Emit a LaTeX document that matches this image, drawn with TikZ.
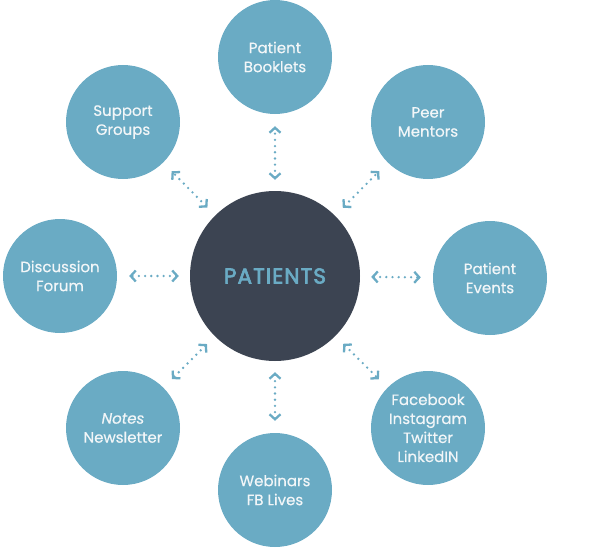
\documentclass[tikz,border=0pt]{standalone}
\usepackage{fontspec}
\setmainfont{Poppins}
\newfontfamily\hubfont{Poppins}[FakeBold=3]
\newfontfamily\outfont{Poppins}[FakeBold=0.4]
\usetikzlibrary{arrows.meta}
\definecolor{blu}{HTML}{6AABC4}
\definecolor{dark}{HTML}{3C4452}
\definecolor{txt}{HTML}{F2F6F8}
\tikzset{
  outer/.style={circle, fill=blu, minimum size=114pt, inner sep=0pt, align=center,
    text=txt, font=\outfont\fontsize{15}{19}\selectfont},
  hub/.style={circle, fill=dark, minimum size=170pt, inner sep=0pt, text=blu,
    font=\hubfont\fontsize{21.5}{22}\selectfont},
  link/.style={draw=blu, line width=2.6pt, line cap=round,
    dash pattern=on 0pt off 6.2pt,
    {Straight Barb[length=5pt,width=11pt,line width=2.3pt]}-{Straight Barb[length=5pt,width=11pt,line width=2.3pt]},
    shorten <=11pt, shorten >=12pt}
}
\begin{document}
\begin{tikzpicture}[x=1pt,y=-1pt]
\useasboundingbox (0,0) rectangle (600,551);
\node[hub] (c) at (275,276) {\raisebox{-1pt}{P\kern1.1ptA\kern1.1ptT\kern1.1ptI\kern1.1ptE\kern1.1ptN\kern1.1ptT\kern1.1ptS}};
\node[outer] (n1) at (275,57) {Patient\\Booklets};
\node[outer] (n2) at (428,122) {Peer\\Mentors};
\node[outer] (n3) at (490,278) {Patient\\Events};
\node[outer] (n4) at (428,428) {Facebook\\Instagram\\Twitter\\LinkedIN};
\node[outer] (n5) at (275,490) {Webinars\\FB Lives};
\node[outer] (n6) at (123,428) {\textit{Notes}\\Newsletter};
\node[outer] (n7) at (60,276) {Discussion\\Forum};
\node[outer] (n8) at (123,122) {Support\\Groups};
\foreach \n in {n1,n2,n3,n4,n5,n6,n7,n8}
  \draw[link] (c) -- (\n);
\end{tikzpicture}
\end{document}
